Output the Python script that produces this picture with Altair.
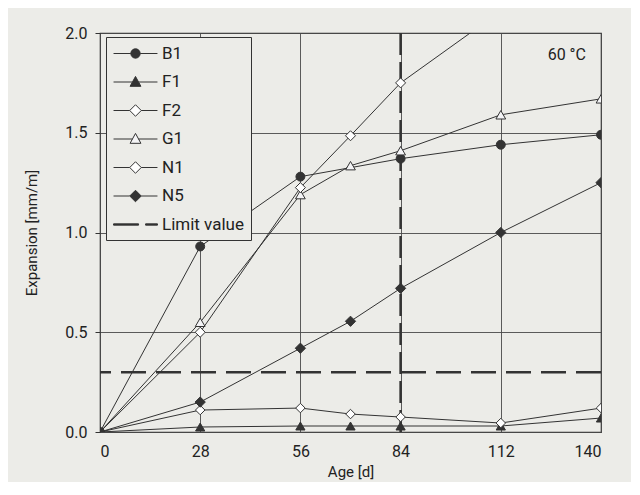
import altair as alt
import pandas as pd

# ---- data ----
days = [0, 28, 56, 70, 84, 112, 140]
series_names = ["B1", "F1", "F2", "G1", "N1", "N5"]
b1 = [0.0, 0.93, 1.28, None, 1.37, 1.44, 1.49]
f1 = [0.0, 0.025, 0.03, 0.03, 0.03, 0.03, 0.07]
f2 = [0.0, 0.11, 0.12, 0.09, 0.075, 0.045, 0.12]
g1 = [0.0, 0.55, 1.19, 1.335, 1.41, 1.59, 1.67]
n1 = [0.0, 0.50, 1.225, 1.485, 1.75, 2.11, None]
n5 = [0.0, 0.15, 0.42, 0.555, 0.72, 1.00, 1.25]
limit_expansion = [0.3]
limit_age = [84]
limit_name = "Limit value"
temperature_label = "60 °C"
x_ticks = [0, 28, 56, 84, 112, 140]
y_ticks = [0.0, 0.5, 1.0, 1.5, 2.0]

rows = []
for name, vals in zip(series_names, [b1, f1, f2, g1, n1, n5]):
    for d, v in zip(days, vals):
        if v is not None:
            rows.append({"series": name, "age": d, "expansion": v})
df = pd.DataFrame(rows)

legend_domain = series_names + [limit_name]
dark = "#333333"
bg = "#ecece8"
marker_shapes = ["circle", "triangle-up", "diamond", "triangle-up", "diamond", "diamond"]
marker_sizes = [80, 105, 125, 105, 125, 125]
marker_fills = [dark, dark, "#ffffff", "#f4f4f6", "#ffffff", dark]
circle_p = "M-2.44,0H-0.52M0.52,0H2.44M0.52,0A0.52,0.52,0,1,1,-0.52,0A0.52,0.52,0,1,1,0.52,0Z"
tri_p = "M-2.44,0H-0.34M0.34,0H2.44M0,-0.62L0.6,0.48L-0.6,0.48Z"
dia_p = "M-2.44,0H-0.64M0.64,0H2.44M0,-0.64L0.64,0L0,0.64L-0.64,0Z"
dash_p = "M-2.44,-0.07H0.34V0.07H-2.44ZM1.12,-0.07H2.44V0.07H1.12Z"
legend_paths = [circle_p, tri_p, dia_p, tri_p, dia_p, dia_p, dash_p]
legend_fills = marker_fills + [dark]

xscale = alt.Scale(domain=[0, 140], nice=False, zero=False)
yscale = alt.Scale(domain=[0, 2], nice=False)

x_enc = alt.X("age:Q", scale=xscale, title="Age [d]",
              axis=alt.Axis(values=x_ticks, format="d", ticks=False, labelPadding=11,
                            titlePadding=5))
y_enc = alt.Y("expansion:Q", scale=yscale, title="Expansion [mm/m]",
              axis=alt.Axis(values=y_ticks, format=".1f", tickSize=5, labelPadding=8,
                            titlePadding=25))

base = alt.Chart(df)

lines = base.mark_line(color=dark, strokeWidth=1, clip=True).encode(
    x=x_enc, y=y_enc, detail="series:N"
)

points = base.mark_point(filled=True, stroke=dark, strokeWidth=1,
                         opacity=1, clip=True).encode(
    x=x_enc, y=y_enc,
    shape=alt.Shape("series:N", scale=alt.Scale(domain=series_names, range=marker_shapes), legend=None),
    fill=alt.Fill("series:N", scale=alt.Scale(domain=series_names, range=marker_fills), legend=None),
    size=alt.Size("series:N", scale=alt.Scale(domain=series_names, range=marker_sizes), legend=None),
)

legend_layer = base.mark_point(filled=True, stroke=dark, strokeWidth=1, opacity=0).encode(
    x=x_enc, y=y_enc,
    shape=alt.Shape("series:N", scale=alt.Scale(domain=legend_domain, range=legend_paths),
                    legend=alt.Legend(title=None, orient="none", legendX=6, legendY=4,
                                      symbolOpacity=1, symbolSize=324, symbolOffset=13,
                                      labelFontSize=17, labelFont="Roboto", labelColor="#222",
                                      labelOffset=17, rowPadding=10.5, padding=7,
                                      fillColor=bg, strokeColor=dark, symbolStrokeWidth=1)),
    fill=alt.Fill("series:N", scale=alt.Scale(domain=legend_domain, range=legend_fills)),
)

hlimit = alt.Chart(pd.DataFrame({"v": limit_expansion})).mark_rule(
    color=dark, strokeWidth=2.5, strokeDash=[25, 10]
).encode(y=alt.Y("v:Q", scale=yscale))

vlimit = alt.Chart(pd.DataFrame({"d": limit_age})).mark_rule(
    color=dark, strokeWidth=2.5, strokeDash=[22, 7]
).encode(x=alt.X("d:Q", scale=xscale))

temp_text = alt.Chart(pd.DataFrame({"t": [temperature_label]})).mark_text(
    align="right", baseline="middle", fontSize=16, font="Roboto", color="#222"
).encode(text="t:N", x=alt.value(486), y=alt.value(22))

chart = alt.layer(hlimit, vlimit, lines, points, legend_layer, temp_text).resolve_scale(
    shape="independent", fill="independent", size="independent"
).properties(
    width=501, height=399,
    autosize=alt.AutoSizeParams(type="none"),
    padding={"left": 92, "top": 25, "right": 30, "bottom": 50},
    background=bg,
).configure_view(
    stroke=dark, strokeWidth=1.2, fill=bg
).configure_axis(
    grid=True, gridColor="#4a4a4a", gridWidth=0.9, domain=False,
    tickColor=dark, labelFont="Roboto", labelFontSize=16,
    labelColor="#222", titleFont="Roboto", titleFontSize=15,
    titleFontWeight="normal", titleColor="#222",
)

chart.save("out.html", embed_options={"renderer": "svg", "actions": False})
